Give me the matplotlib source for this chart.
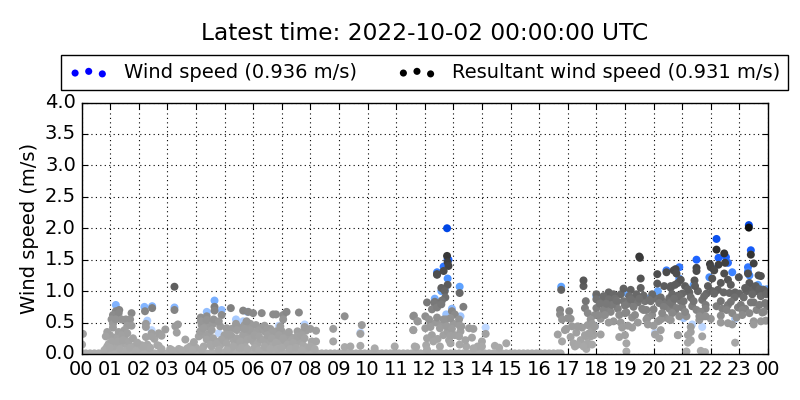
import numpy as np
import matplotlib
matplotlib.use('Agg')
import matplotlib.pyplot as plt
from matplotlib.colors import LinearSegmentedColormap
from matplotlib.transforms import ScaledTranslation

# Values, hours since 00 UTC
hour_labels = ['00', '01', '02', '03', '04', '05', '06', '07', '08', '09', '10', '11',
               '12', '13', '14', '15', '16', '17', '18', '19', '20', '21', '22', '23', '00']
title = 'Latest time: 2022-10-02 00:00:00 UTC'
latest_wind = 0.936
latest_resultant = 0.931

wind_hours = [1.2, 2.2, 2.47, 2.3, 2.45, 3.25, 4.38, 4.65, 4.9, 5.4, 5.65, 5.8, 4.8, 5.65, 5.95,
              6.9, 7.8, 9.75, 12.78, 12.8, 12.43, 12.66, 12.83, 12.8, 12.58, 12.7, 13.22, 12.35,
              12.95, 12.75, 12.9, 14.13, 13.25, 16.77, 17.95, 19.0, 20.05, 20.45, 20.9, 20.9, 21.5,
              22.2, 23.33, 23.4, 22.27, 22.53, 22.6, 23.3, 23.3, 23.35, 23.8, 23.95, 22.85, 21.05,
              21.35, 21.7, 21.95, 23.65, 23.9, 20.15, 19.8, 18.0, 21.4, 22.1, 22.75]
wind_speed = [0.78, 0.75, 0.76, 0.53, 0.38, 0.74, 0.67, 0.85, 0.7, 0.55, 0.41, 0.67, 0.33, 0.52, 0.45,
              0.45, 0.47, 0.34, 2.0, 1.51, 1.3, 1.39, 1.5, 1.2, 1.0, 1.03, 1.07, 0.88,
              0.72, 0.63, 0.42, 0.42, 0.6, 1.07, 0.44, 0.98, 0.34, 1.33, 1.38, 1.2, 1.5,
              1.83, 2.05, 1.65, 1.53, 1.54, 1.45, 1.38, 1.31, 1.25, 1.03, 1.03, 0.56, 0.57,
              0.47, 0.43, 1.22, 1.1, 1.0, 1.0, 0.88, 0.92, 1.1, 1.35, 1.3]

# calm hours sit on the axis
calm_hours = [0.0, 0.15, 0.3, 0.45, 0.6, 0.75, 0.9, 1.05, 1.2, 1.35, 1.5, 1.65, 1.8, 1.95, 2.1, 2.25, 2.4, 2.55,
              2.7, 2.85, 3.0, 3.15, 3.3, 3.45, 3.6, 3.75, 3.9, 4.05, 4.2, 4.35, 4.5, 4.65, 4.8, 4.95, 5.1, 5.25,
              5.4, 5.55, 5.7, 5.85, 6.0, 6.15, 6.3, 6.45, 6.6, 6.75, 6.9, 7.05, 7.2, 7.35, 7.5, 7.65, 7.8, 7.95,
              8.1, 8.25, 8.4, 8.55, 8.7, 8.85, 9.0, 9.15, 9.3, 9.45, 9.6, 9.75, 9.9, 10.05, 10.2, 10.35, 10.5,
              10.65, 10.8, 10.95, 11.1, 11.25, 11.4, 11.55, 11.7, 11.85, 12.0, 12.15, 12.3, 12.45, 12.6, 12.75,
              12.9, 13.05, 13.2, 13.35, 13.5, 13.65, 13.8, 13.95, 14.1, 14.25, 14.4, 14.55, 14.7, 14.85, 15.0,
              15.15, 15.3, 15.45, 15.6, 15.75, 15.9, 16.05, 16.2, 16.35, 16.5, 16.65, 16.75]
calm_speed = [0.01, 0.01, 0.01, 0.01, 0.01, 0.01, 0.01, 0.01, 0.01, 0.01, 0.01, 0.01, 0.01, 0.01, 0.01, 0.01, 0.01, 0.01,
              0.01, 0.01, 0.01, 0.01, 0.01, 0.01, 0.01, 0.01, 0.01, 0.01, 0.01, 0.01, 0.01, 0.01, 0.01, 0.01, 0.01, 0.01,
              0.01, 0.01, 0.01, 0.01, 0.01, 0.01, 0.01, 0.01, 0.01, 0.01, 0.01, 0.01, 0.01, 0.01, 0.01, 0.01, 0.01, 0.01,
              0.01, 0.01, 0.01, 0.01, 0.01, 0.01, 0.01, 0.01, 0.01, 0.01, 0.01, 0.01, 0.01, 0.01, 0.01, 0.01, 0.01,
              0.01, 0.01, 0.01, 0.01, 0.01, 0.01, 0.01, 0.01, 0.01, 0.01, 0.01, 0.01, 0.01, 0.01, 0.01,
              0.01, 0.01, 0.01, 0.01, 0.01, 0.01, 0.01, 0.01, 0.01, 0.01, 0.01, 0.01, 0.01, 0.01, 0.01,
              0.01, 0.01, 0.01, 0.01, 0.01, 0.01, 0.01, 0.01, 0.01, 0.01, 0.01, 0.01]

# the crowded low part of the cloud
low_hours = [0.85, 0.95, 1.05, 1.15, 1.25, 1.4, 1.5, 1.6, 1.85, 2.0, 2.1, 2.3, 2.35, 2.55, 2.65,
             3.1, 3.4, 3.8, 4.0, 4.1, 4.3, 4.45, 4.55, 4.7, 4.85, 5.0, 5.15, 5.25, 5.35, 5.5, 5.6, 5.7, 5.85,
             5.0, 5.2, 5.4, 5.6, 5.8, 6.0, 6.15, 6.25, 6.45, 6.55, 6.7, 6.85, 7.0, 7.1, 7.25, 7.35, 7.45, 7.6, 7.75, 7.9,
             5.75, 5.9, 6.1, 6.3, 6.55, 6.75, 6.95, 7.15, 7.35, 7.65, 7.85, 8.05,
             4.2, 4.4, 4.6, 4.85, 5.05, 5.25, 5.5, 5.7, 5.95, 6.2, 6.4, 6.6, 6.8, 7.0, 7.25, 7.55,
             12.05, 12.25, 12.45, 12.65, 12.85, 13.05, 13.25, 13.45, 13.65, 13.85, 12.2, 12.4, 12.6, 12.8, 13.0,
             17.1, 17.3, 17.5, 17.7, 17.9, 17.25, 17.45, 17.65, 17.85, 17.95,
             18.2, 18.35, 18.5, 18.7, 18.95, 19.1, 19.3, 19.45, 19.7, 19.9, 20.1, 20.3, 20.45, 20.7, 20.95,
             18.15, 18.4, 18.6, 18.75, 19.05, 19.25, 19.6, 19.75, 19.95, 20.15, 20.4, 20.55, 20.75, 21.0,
             21.0, 21.25, 21.55, 21.7, 21.85, 22.05, 22.25, 22.45, 22.85, 23.0, 23.25, 23.4, 23.6, 23.85, 23.98,
             21.15, 21.35, 21.6, 21.75, 22.0, 22.2, 22.4, 22.6, 22.95, 23.2, 23.4, 23.6, 23.8, 23.97]
low_speed = [0.08, 0.16, 0.14, 0.12, 0.28, 0.16, 0.28, 0.13, 0.12, 0.09, 0.14, 0.15, 0.1, 0.24, 0.14,
             0.08, 0.08, 0.12, 0.1, 0.28, 0.3, 0.32, 0.12, 0.2, 0.14, 0.3, 0.1, 0.28, 0.16, 0.1, 0.25, 0.14, 0.27,
             0.2, 0.08, 0.18, 0.22, 0.32, 0.2, 0.16, 0.24, 0.1, 0.2, 0.14, 0.24, 0.18, 0.22, 0.1, 0.26, 0.12, 0.2, 0.14, 0.1,
             0.34, 0.48, 0.46, 0.42, 0.33, 0.3, 0.44, 0.3, 0.22, 0.34, 0.37, 0.2,
             0.46, 0.44, 0.48, 0.44, 0.26, 0.4, 0.42, 0.46, 0.45, 0.38, 0.36, 0.4, 0.36, 0.36, 0.35, 0.36,
             0.14, 0.3, 0.24, 0.3, 0.22, 0.3, 0.36, 0.12, 0.26, 0.12, 0.48, 0.5, 0.46, 0.36, 0.48,
             0.56, 0.34, 0.42, 0.46, 0.3, 0.12, 0.22, 0.08, 0.38, 0.62,
             0.84, 0.76, 0.86, 0.82, 0.84, 0.8, 0.86, 0.82, 0.84, 0.84, 0.88, 0.84, 0.82, 0.86, 0.84,
             0.56, 0.68, 0.52, 0.72, 0.66, 0.58, 0.72, 0.7, 0.62, 0.52, 0.58, 0.72, 0.68, 0.74,
             0.96, 0.98, 1.0, 0.86, 0.96, 1.0, 1.02, 0.98, 0.98, 0.96, 1.0, 1.02, 1.0, 1.02, 0.98,
             0.6, 0.76, 0.54, 0.6, 0.56, 0.76, 0.72, 0.78, 0.74, 0.72, 0.82, 0.7, 0.66, 0.76]

resultant_hours = [
    0.05, 0.02,
    1.2, 1.1, 1.32, 1.3, 1.75, 1.05, 1.1, 1.2, 1.4, 1.55, 1.7, 1.75, 1.6, 1.1, 1.3, 1.5, 1.6, 1.4, 1.2,
    1.0, 1.05, 1.25, 1.45, 1.65, 1.8, 1.95, 0.9, 0.85, 0.9, 0.8, 1.0, 1.35, 1.55, 1.7, 1.9,
    2.22, 2.47, 2.25, 2.25, 2.45, 2.7, 2.93, 2.25, 2.45, 2.8, 2.17, 2.4, 2.7, 2.8,
    3.25, 3.25, 3.37, 3.28, 3.33, 3.63, 3.17, 3.7, 3.93, 3.5, 3.87,
    4.17, 4.17, 4.38, 4.65, 4.65, 4.9, 4.38, 4.62, 4.8, 4.15, 4.27, 4.55, 5.07, 5.07, 4.38, 4.6, 4.9,
    4.27, 4.5, 4.72, 4.2, 4.8, 5.07, 5.3,
    5.22, 5.65, 5.83, 5.77, 5.4, 5.43, 5.65, 5.43, 5.2, 5.55, 5.8, 5.3, 5.6, 5.8, 5.08, 5.9, 5.7,
    6.0, 6.3, 6.7, 6.8, 6.4, 6.5, 6.65, 6.95, 6.1, 5.95, 6.05, 6.2, 6.35, 6.5, 6.65, 6.8, 6.9,
    6.05, 6.2, 6.4, 6.6, 6.85,
    7.05, 7.17, 7.05, 7.6, 7.8, 7.05, 7.2, 7.4, 7.55, 7.7, 7.8, 7.0, 7.3, 7.5, 7.7,
    8.0, 8.2, 8.8, 8.8, 8.2, 8.0, 8.15,
    9.2, 9.8, 9.75, 9.2, 9.4, 9.75,
    10.25, 10.95,
    11.7, 11.6, 11.6, 11.75, 11.62, 11.75, 11.6, 11.65,
    12.78, 12.8, 12.83, 12.43, 12.43, 12.66, 12.8, 12.58, 12.7, 12.72, 12.6, 13.22,
    12.08, 12.35, 12.35, 12.25, 12.43, 12.58, 13.35, 12.95, 13.05, 12.75, 12.9, 12.02, 12.15, 12.43,
    12.66, 13.2, 13.22, 12.02, 12.2, 12.53, 12.77, 12.95, 13.28, 13.55, 13.7, 14.13, 12.9, 12.08,
    13.2, 14.0, 13.42, 12.3, 12.9, 12.53, 13.22, 13.7, 14.0, 12.08,
    14.45, 14.6, 14.85,
    16.77, 16.73, 16.73, 16.8, 17.05, 17.0, 17.15, 16.9, 16.65, 16.8, 17.1, 17.35,
    17.6, 17.63, 17.55, 17.55, 17.7, 17.65, 17.2, 17.35, 17.65, 16.95, 17.6, 17.8, 17.7, 17.55, 17.85, 17.8,
    17.85, 17.95, 17.75,
    18.43, 18.0, 18.25, 18.6, 18.85, 18.0, 18.43, 18.65, 18.0, 18.25, 18.5, 18.07, 18.3, 18.8, 18.43,
    18.85, 18.9, 18.15, 18.8, 18.95, 18.12, 18.55, 18.7, 18.35,
    19.5, 19.52, 19.55, 19.2, 19.55, 19.15, 19.4, 19.65, 19.95, 19.2, 19.5, 19.85, 19.0, 19.3, 19.65,
    19.0, 19.35, 19.8, 19.25, 19.75, 19.8, 19.0, 19.05, 19.05, 19.1, 19.45,
    20.13, 20.45, 20.77, 20.13, 20.37, 20.6, 20.85, 20.25, 20.55, 20.85, 20.2, 20.65, 20.0, 20.35, 20.25,
    20.55, 20.9, 20.0, 20.25, 20.05, 20.2, 20.85, 20.7, 20.8, 20.95, 20.6, 20.75, 20.65, 20.9,
    20.6, 20.8, 20.65, 20.6, 20.85, 20.72, 20.3,
    21.43, 21.5, 21.5, 21.1, 21.2, 21.45, 21.9, 21.3, 21.77, 21.05, 21.4, 21.82, 21.82, 21.5, 21.65,
    21.1, 21.82, 21.6, 21.3, 21.3, 21.2, 21.7, 21.3, 21.2, 21.15, 21.65, 21.8, 21.97,
    22.2, 22.47, 22.27, 22.5, 22.0, 22.12, 22.47, 22.05, 22.35, 22.6, 22.7, 22.12, 22.65, 22.83, 22.35,
    22.7, 22.75, 22.55, 22.35, 22.9, 22.35, 22.6, 22.75, 22.85, 22.98,
    23.33, 23.4, 23.5, 23.3, 23.67, 23.75, 23.35, 23.57, 23.7, 23.2, 23.15, 23.45, 23.75, 23.93, 23.5,
    23.05, 23.7, 23.9, 23.1, 23.35, 23.85, 23.1, 23.5, 23.75, 23.92, 23.5,
]
resultant_speed = [
    0.32, 0.15,
    0.68, 0.62, 0.7, 0.65, 0.65, 0.55, 0.48, 0.55, 0.55, 0.55, 0.55, 0.45, 0.45, 0.42, 0.35, 0.38, 0.33, 0.3, 0.25,
    0.3, 0.2, 0.2, 0.22, 0.2, 0.25, 0.18, 0.35, 0.28, 0.12, 0.06, 0.1, 0.08, 0.05, 0.1, 0.05,
    0.68, 0.73, 0.48, 0.43, 0.33, 0.33, 0.39, 0.27, 0.28, 0.29, 0.12, 0.1, 0.13, 0.08,
    1.07, 0.7, 0.47, 0.44, 0.34, 0.23, 0.06, 0.09, 0.19, 0.06, 0.06,
    0.58, 0.52, 0.6, 0.75, 0.69, 0.62, 0.54, 0.55, 0.52, 0.36, 0.41, 0.38, 0.41, 0.31, 0.23, 0.25, 0.23,
    0.12, 0.15, 0.17, 0.07, 0.07, 0.17, 0.23,
    0.73, 0.69, 0.67, 0.52, 0.48, 0.38, 0.31, 0.25, 0.31, 0.2, 0.23, 0.12, 0.1, 0.08, 0.06, 0.38, 0.4,
    0.65, 0.65, 0.63, 0.63, 0.45, 0.4, 0.35, 0.4, 0.35, 0.25, 0.3, 0.28, 0.22, 0.3, 0.25, 0.18, 0.3,
    0.1, 0.06, 0.12, 0.08, 0.08,
    0.62, 0.67, 0.55, 0.66, 0.43, 0.25, 0.15, 0.18, 0.28, 0.3, 0.25, 0.1, 0.08, 0.1, 0.06,
    0.4, 0.37, 0.4, 0.2, 0.2, 0.12, 0.08,
    0.6, 0.46, 0.32, 0.11, 0.12, 0.13,
    0.09, 0.12,
    0.11, 0.38, 0.6, 0.52, 0.61, 0.52, 0.38, 0.12,
    1.56, 1.46, 1.4, 1.27, 1.26, 1.32, 1.1, 1.05, 1.0, 0.9, 0.85, 0.97,
    0.82, 0.83, 0.8, 0.71, 0.74, 0.79, 0.75, 0.68, 0.63, 0.55, 0.57, 0.6, 0.55, 0.58,
    0.55, 0.55, 0.45, 0.41, 0.43, 0.41, 0.44, 0.4, 0.44, 0.41, 0.4, 0.32, 0.29, 0.25,
    0.28, 0.2, 0.22, 0.2, 0.17, 0.12, 0.15, 0.09, 0.12, 0.07,
    0.13, 0.1, 0.17,
    1.02, 0.7, 0.63, 0.55, 0.68, 0.57, 0.44, 0.38, 0.31, 0.2, 0.27, 0.44,
    0.73, 0.84, 1.08, 1.17, 0.65, 0.28, 0.17, 0.15, 0.15, 0.4, 0.3, 0.28, 0.17, 0.12, 0.15, 0.55,
    0.48, 0.44, 0.33,
    0.98, 0.95, 0.92, 0.95, 0.95, 0.87, 0.87, 0.88, 0.73, 0.7, 0.67, 0.62, 0.62, 0.62, 0.5,
    0.5, 0.42, 0.31, 0.27, 1.04, 0.8, 0.78, 0.85, 0.8,
    1.55, 1.53, 1.2, 1.02, 1.05, 0.92, 0.95, 0.93, 0.95, 0.87, 0.88, 0.86, 0.77, 0.75, 0.7,
    0.65, 0.62, 0.58, 0.42, 0.55, 0.47, 0.3, 0.17, 0.04, 0.45, 0.5,
    1.27, 1.3, 1.35, 1.12, 1.08, 1.05, 1.13, 0.9, 0.89, 0.93, 0.81, 0.79, 0.71, 0.75, 0.55,
    0.55, 0.6, 0.45, 0.38, 0.31, 0.25, 0.3, 1.33, 1.28, 1.18, 1.08, 1.1, 0.95, 0.92,
    0.82, 0.73, 0.65, 0.54, 0.3, 0.88, 0.65,
    1.17, 1.37, 1.32, 1.08, 1.03, 1.08, 1.08, 0.9, 0.92, 0.84, 0.84, 0.78, 0.72, 0.7, 0.67,
    0.67, 0.6, 0.6, 0.43, 0.35, 0.3, 0.28, 0.22, 0.18, 0.04, 0.05, 0.03, 1.43,
    1.66, 1.6, 1.42, 1.45, 1.38, 1.33, 1.28, 1.2, 1.13, 1.18, 1.1, 0.96, 0.97, 0.9, 0.84,
    0.83, 0.65, 0.7, 0.61, 0.58, 0.5, 0.49, 0.47, 0.18, 1.22,
    2.01, 1.58, 1.44, 1.28, 1.25, 1.24, 1.13, 1.08, 1.03, 1.05, 0.9, 0.95, 0.92, 0.95, 0.82,
    0.78, 0.78, 0.81, 0.7, 0.65, 0.67, 0.62, 0.52, 0.52, 0.53, 0.47,
]

wind_cmap = LinearSegmentedColormap.from_list('wind', [(0.0, '#c8dcff'), (0.21, '#bed7ff'), (0.38, '#82b4ff'),
                                                       (0.55, '#5aa0ff'), (0.75, '#1e64ff'), (1.0, '#0046e6')])
resultant_cmap = LinearSegmentedColormap.from_list('resultant', [(0.0, '#adadad'), (0.25, '#999999'), (0.38, '#7d7d7d'),
                                                                 (0.5, '#646464'), (0.75, '#3c3c3c'), (1.0, '#0f0f0f')])

fig = plt.figure(figsize=(8, 4), dpi=100)
ax = fig.add_axes([81.5 / 800, 46 / 400, 686.5 / 800, 251.5 / 400])

ax.scatter(wind_hours, wind_speed, c=wind_speed, cmap=wind_cmap, vmin=0, vmax=2, s=33, linewidths=0, zorder=3)
all_hours = calm_hours + low_hours + resultant_hours
all_speed = calm_speed + low_speed + resultant_speed
ax.scatter(all_hours, all_speed, c=all_speed, cmap=resultant_cmap, vmin=0, vmax=2, s=33, linewidths=0, zorder=4)

ax.set_xlim(0, 24)
ax.set_ylim(0, 4)
ax.set_xticks(np.arange(25))
ax.set_xticklabels(hour_labels)
ax.set_yticks(np.arange(0, 4.5, 0.5))
ax.tick_params(direction='in', length=4, width=0.8, top=True, right=True, labelsize=14, pad=4)
ax.grid(True, linestyle=(0, (1, 3)), color='black', linewidth=0.8, zorder=1)
ax.set_axisbelow(True)
ax.set_ylabel('Wind speed (m/s)', fontsize=14, labelpad=4)
for spine in ax.spines.values():
    spine.set_linewidth(1.0)
    spine.set_zorder(6)

# y labels sit a little above their ticks
lift = ScaledTranslation(0, 1.5 / 72, fig.dpi_scale_trans)
for lab in ax.get_yticklabels():
    lab.set_transform(lab.get_transform() + lift)

# empty handles, so the legend keeps plain blue and black
h1 = ax.scatter([], [], color='blue', s=26, linewidths=0)
h2 = ax.scatter([], [], color='black', s=26, linewidths=0)
leg = ax.legend([h1, h2],
                ['Wind speed (%.3f m/s)' % latest_wind, 'Resultant wind speed (%.3f m/s)' % latest_resultant],
                loc='lower center', bbox_to_anchor=(0.5, 1.05), ncol=2, fontsize=14,
                scatterpoints=3, scatteryoffsets=[0.375, 0.5, 0.3125], fancybox=False,
                framealpha=1, edgecolor='black', borderaxespad=0, columnspacing=2.1, handletextpad=0.8)
leg.get_frame().set_linewidth(1.0)

fig.text(424.5 / 800, 1 - 34 / 400, title, ha='center', va='center', fontsize=16.75)

fig.savefig('out.png', dpi=100)
